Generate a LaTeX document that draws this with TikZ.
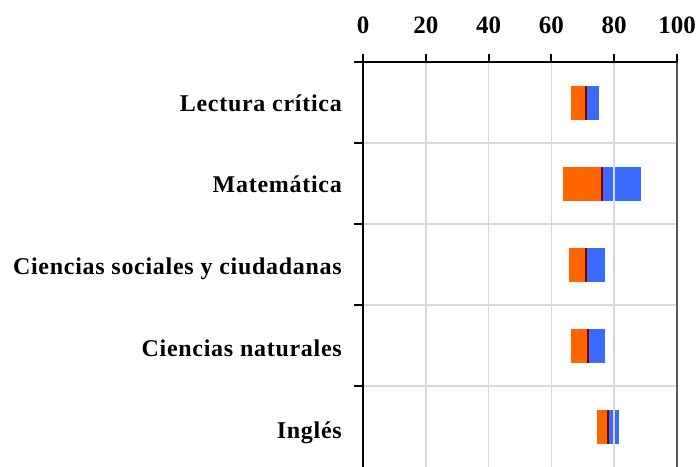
\documentclass[tikz,border=0pt]{standalone}
\usepackage{fontspec}
\setmainfont{Liberation Serif}
\newfontfamily\rotulo[LetterSpace=3]{Liberation Serif}
\definecolor{naranja}{HTML}{FF6600}
\definecolor{azul}{HTML}{3A6BFF}
\definecolor{granate}{HTML}{800000}

\begin{document}
\begin{tikzpicture}[
	etiqueta/.style={font=\rotulo\bfseries\fontsize{24}{28}\selectfont, inner sep=0pt},
	cifra/.style={font=\bfseries\fontsize{25}{28}\selectfont, inner sep=0pt},
	rejilla/.style={line width=1.5pt, black!15},
	eje/.style={line width=2.5pt},
	marca/.style={line width=2pt}
	]
	\useasboundingbox (0,0) rectangle (698pt,-466pt);
	\begin{scope}[shift={(363pt,-62pt)}, x=3.14pt, y=-81pt]
		% barras y nombres
		\foreach \i/\nombre/\lo/\me/\hi in {0/Lectura crítica/66.2/71/75.2,
			1/Matemática/63.7/76.1/88.5,
			2/Ciencias sociales y ciudadanas/65.6/71/77,
			3/Ciencias naturales/66.2/71.7/77,
			4/Inglés/74.5/78.1/81.5} {
			\fill[naranja] (\lo,\i+0.3) rectangle (\me,\i+0.72);
			\fill[azul] (\me,\i+0.3) rectangle (\hi,\i+0.72);
			\draw[granate, line width=2pt] (\me,\i+0.3) -- (\me,\i+0.72);
			\node[etiqueta, anchor=base east] (c\i) at ([xshift=-21pt,yshift={-(8.5+0.75*\i)*1pt}]0,\i+0.5) {\nombre};
		}
		% rejilla
		\foreach \v in {20,40,60,80} {
			\draw[rejilla] (\v,0) -- (\v,5);
		}
		\foreach \i in {1,...,4} {
			\draw[rejilla] (0,\i) -- (100,\i);
		}
		\draw[line width=1.8pt, black!65] (100,0) -- (100,5);
		% ejes
		\draw[eje] (0,0) -- (100,0);
		\draw[eje] (0,0) -- (0,5);
		\foreach \v in {0,20,...,100} {
			\draw[marca] (\v,0) -- ++(0,8pt);
			\node[cifra, anchor=base] (n\v) at ([yshift=29pt]\v,0) {\v};
		}
		\foreach \i in {0,...,4} {
			\draw[marca] (0,\i) -- ++(-9pt,0);
		}
	\end{scope}
\end{tikzpicture}
\end{document}
